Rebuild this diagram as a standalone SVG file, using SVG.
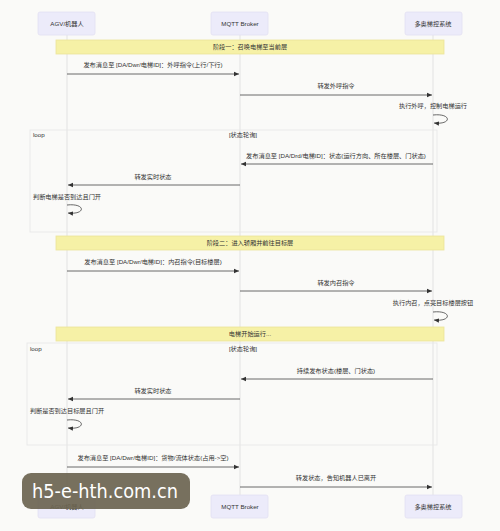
<svg xmlns="http://www.w3.org/2000/svg" width="500" height="531" viewBox="0 0 500 531">
<defs>
<style>
text{font-family:"Liberation Sans","Noto Sans CJK SC",sans-serif;font-size:6.2px;fill:#333;}
.c{text-anchor:middle;}
.actor{fill:#ecebfa;stroke:#e2e0f2;stroke-width:0.8;}
.life{stroke:#dcdcdc;stroke-width:0.8;}
.note{fill:#f6f1a6;stroke:#ece49a;stroke-width:0.8;}
.msg{stroke:#444;stroke-width:0.8;fill:none;}
.loopbox{fill:none;stroke:#e6e6e6;stroke-width:0.8;}
</style>
<marker id="ah" markerWidth="6" markerHeight="6" refX="5" refY="3" orient="auto" markerUnits="userSpaceOnUse">
<path d="M0,0.8 L5,3 L0,5.2 Z" fill="#333"/>
</marker>
</defs>
<rect width="500" height="531" fill="#fafaf8"/>

<g id="lifelines">
<line class="life" x1="67" y1="35" x2="67" y2="495"/>
<line class="life" x1="240" y1="35" x2="240" y2="495"/>
<line class="life" x1="433" y1="35" x2="433" y2="495"/>
</g>

<g id="actor-agv">
<rect class="actor" x="38" y="12" width="57" height="23" rx="2"/>
<text class="c" x="67" y="25.5">AGV/机器人</text>
<rect class="actor" x="38" y="495" width="57" height="23" rx="2"/>
<text class="c" x="67" y="508.5">AGV/机器人</text>
</g>
<g id="actor-mqtt">
<rect class="actor" x="211" y="12" width="57" height="23" rx="2"/>
<text class="c" x="240" y="25.5">MQTT Broker</text>
<rect class="actor" x="211" y="495" width="57" height="23" rx="2"/>
<text class="c" x="240" y="508.5">MQTT Broker</text>
</g>
<g id="actor-elevator">
<rect class="actor" x="405" y="12" width="57" height="23" rx="2"/>
<text class="c" x="433" y="25.5">多奥梯控系统</text>
<rect class="actor" x="405" y="495" width="57" height="23" rx="2"/>
<text class="c" x="433" y="508.5">多奥梯控系统</text>
</g>

<g id="loop1">
<rect class="loopbox" x="30" y="130" width="407" height="102"/>
<text x="33" y="137">loop</text>
<text class="c" x="243" y="137">[状态轮询]</text>
</g>
<g id="loop2">
<rect class="loopbox" x="27" y="343" width="410" height="102"/>
<text x="30" y="351">loop</text>
<text class="c" x="243" y="351">[状态轮询]</text>
</g>

<g id="note1">
<rect class="note" x="56" y="40" width="388" height="14"/>
<text class="c" x="250" y="49.2">阶段一：召唤电梯至当前层</text>
</g>
<g id="note2">
<rect class="note" x="56" y="236" width="388" height="14"/>
<text class="c" x="250" y="245.2">阶段二：进入轿厢并前往目标层</text>
</g>
<g id="note3">
<rect class="note" x="56" y="327" width="388" height="14"/>
<text class="c" x="250" y="336.2">电梯开始运行...</text>
</g>

<g id="connectors">
<line class="msg" x1="67" y1="74" x2="239" y2="74" marker-end="url(#ah)"/>
<line class="msg" x1="240" y1="95" x2="432" y2="95" marker-end="url(#ah)"/>
<path class="msg" d="M433,115 C452,113 452,125 434,123" marker-end="url(#ah)"/>
<line class="msg" x1="433" y1="164" x2="241" y2="164" marker-end="url(#ah)"/>
<line class="msg" x1="240" y1="185" x2="68" y2="185" marker-end="url(#ah)"/>
<path class="msg" d="M67,205 C86,203 86,215 68,213" marker-end="url(#ah)"/>
<line class="msg" x1="67" y1="271" x2="239" y2="271" marker-end="url(#ah)"/>
<line class="msg" x1="240" y1="291" x2="432" y2="291" marker-end="url(#ah)"/>
<path class="msg" d="M433,312 C452,310 452,322 434,320" marker-end="url(#ah)"/>
<line class="msg" x1="433" y1="379" x2="241" y2="379" marker-end="url(#ah)"/>
<line class="msg" x1="240" y1="399" x2="68" y2="399" marker-end="url(#ah)"/>
<path class="msg" d="M67,420 C86,418 86,430 68,428" marker-end="url(#ah)"/>
<line class="msg" x1="67" y1="467" x2="239" y2="467" marker-end="url(#ah)"/>
<line class="msg" x1="240" y1="487" x2="432" y2="487" marker-end="url(#ah)"/>
</g>

<g id="labels">
<text class="c" x="153" y="67">发布消息至 [DA/Dwr/电梯ID]：外呼指令(上行/下行)</text>
<text class="c" x="336" y="87.5">转发外呼指令</text>
<text class="c" x="433" y="108">执行外呼，控制电梯运行</text>
<text class="c" x="336" y="157.5">发布消息至 [DA/Drd/电梯ID]：状态(运行方向、所在楼层、门状态)</text>
<text class="c" x="153" y="178.5">转发实时状态</text>
<text class="c" x="67" y="198.5">判断电梯是否到达且门开</text>
<text class="c" x="153" y="263.5">发布消息至 [DA/Dwr/电梯ID]：内召指令(目标楼层)</text>
<text class="c" x="336" y="284.5">转发内召指令</text>
<text class="c" x="433" y="304.5">执行内召，点亮目标楼层按钮</text>
<text class="c" x="336" y="372.5">持续发布状态(楼层、门状态)</text>
<text class="c" x="153" y="393">转发实时状态</text>
<text class="c" x="67" y="413">判断是否到达目标层且门开</text>
<text class="c" x="153" y="459.5">发布消息至 [DA/Dwr/电梯ID]：货物/流体状态(占用-&gt;空)</text>
<text class="c" x="336" y="480">转发状态，告知机器人已离开</text>
</g>

<g id="watermark">
<rect x="22" y="473" width="168" height="36" rx="9" fill="#6b6450" fill-opacity="0.92"/>
<text x="32" y="498" textLength="146" lengthAdjust="spacingAndGlyphs" style="font-family:'DejaVu Sans','Liberation Sans',sans-serif;font-size:19px;fill:#ffffff;">h5-e-hth.com.cn</text>
</g>
</svg>
